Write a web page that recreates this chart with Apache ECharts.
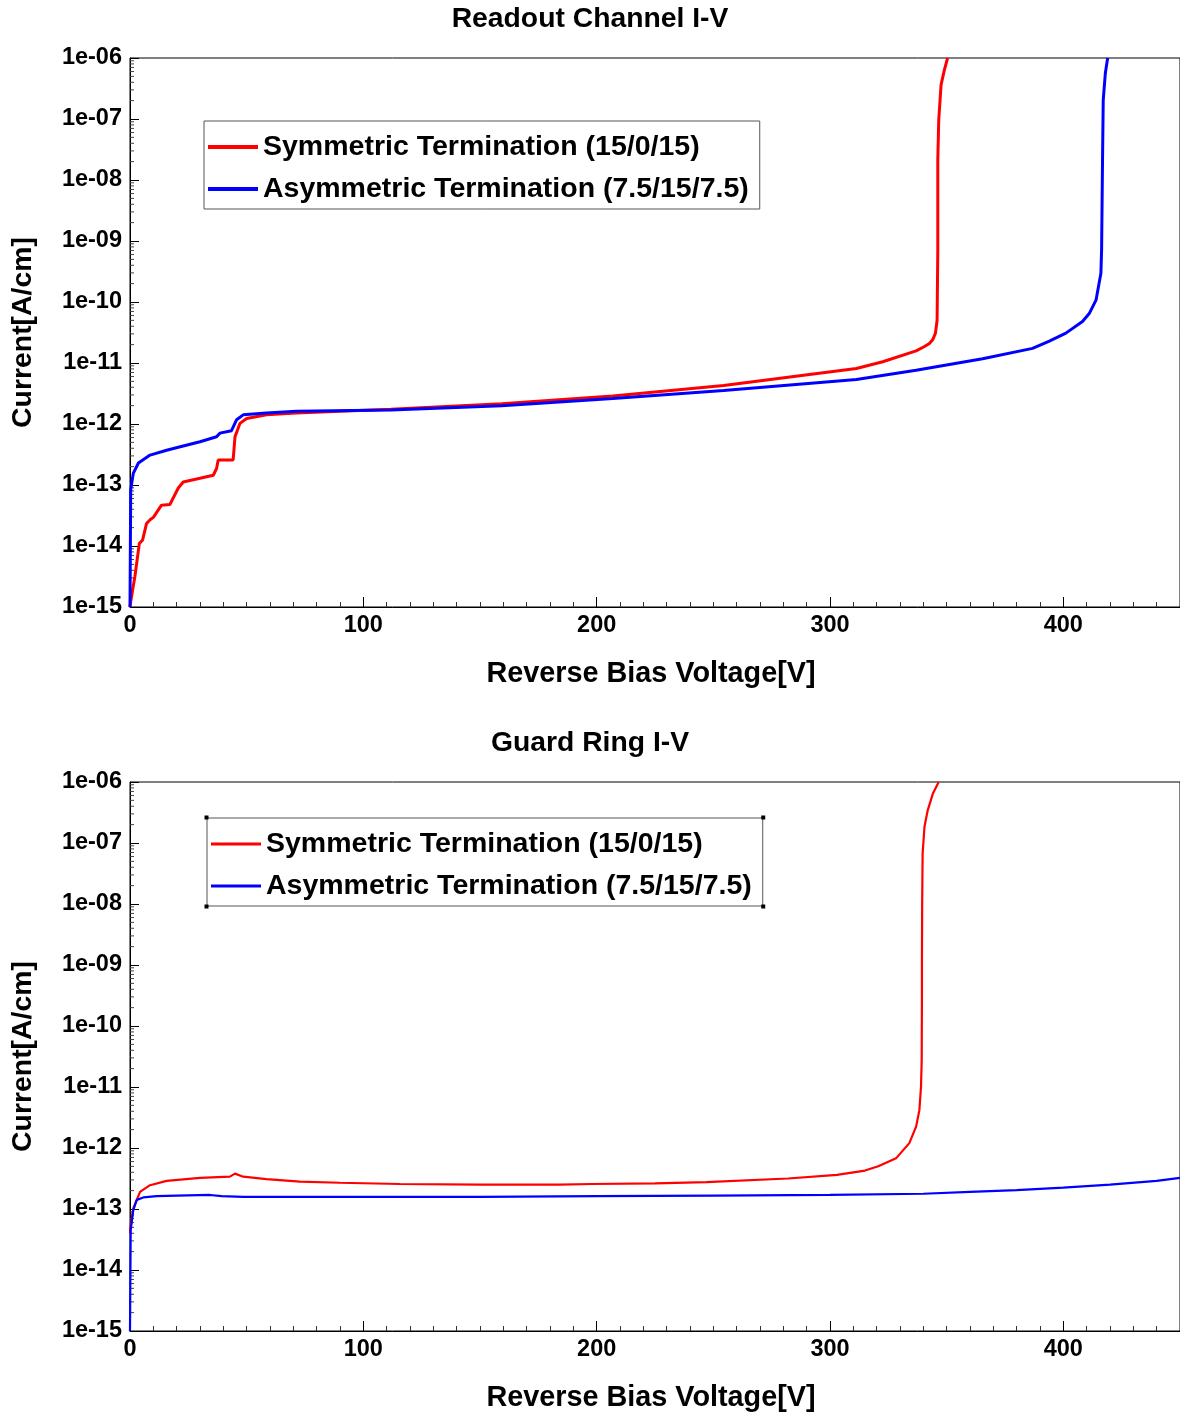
<!DOCTYPE html>
<html><head><meta charset="utf-8">
<script src="https://cdn.jsdelivr.net/npm/echarts@6/dist/echarts.min.js"></script>
<style>html,body{margin:0;padding:0;background:#fff}#c{width:1180px;height:1417px}</style>
</head><body><div id="c"></div>
<script>
// ---- data: [reverse bias voltage V, log10(current A/cm)] ----
const seriesNames = ['Symmetric Termination (15/0/15)', 'Asymmetric Termination (7.5/15/7.5)'];
const panelTitles = ['Readout Channel I-V', 'Guard Ring I-V'];
const yTickExponents = [-15, -14, -13, -12, -11, -10, -9, -8, -7, -6];
const minorMultipliers = [2, 3, 4, 5, 6, 7, 8, 9];

const readoutSym = [[0,-15],[0.3,-14.91],[2.1,-14.5],[4.0,-13.96],[5.4,-13.9],[7.1,-13.63],[8.6,-13.57],[10,-13.53],[13.5,-13.33],[17.1,-13.32],[20.7,-13.05],[22.8,-12.95],[30,-12.89],[35.7,-12.84],[37.1,-12.73],[37.8,-12.59],[44.2,-12.59],[45,-12.21],[47.1,-11.99],[50,-11.91],[58.5,-11.85],[71.3,-11.82],[111.8,-11.76],[159.3,-11.67],[206.9,-11.54],[254.4,-11.37],[287,-11.21],[311.3,-11.09],[322.6,-10.98],[336.9,-10.8],[340.5,-10.73],[342.6,-10.68],[344.0,-10.62],[345.2,-10.51],[345.9,-10.3],[346.2,-9.15],[346.2,-7.67],[346.6,-7.02],[347.6,-6.44],[349,-6.2],[350.4,-6.0]];
const readoutAsym = [[0,-15],[0.3,-13.08],[1.4,-12.81],[3.6,-12.64],[8.6,-12.51],[15.7,-12.43],[22.8,-12.36],[30,-12.29],[37.1,-12.21],[38.5,-12.15],[43.5,-12.11],[45.7,-11.93],[48.5,-11.85],[58.5,-11.82],[71.3,-11.79],[111.8,-11.77],[159.3,-11.7],[206.9,-11.58],[254.4,-11.45],[311.3,-11.27],[336.9,-11.12],[365.4,-10.93],[386.8,-10.76],[394.0,-10.64],[401.1,-10.51],[408.2,-10.32],[411.1,-10.19],[414,-9.97],[416.1,-9.53],[416.4,-9.15],[416.8,-7.67],[417.1,-6.69],[418,-6.25],[419,-6.0]];
const guardSym = [[0,-13.4],[0.2,-13.3],[1.4,-12.99],[4.3,-12.72],[8.6,-12.61],[15.7,-12.54],[30,-12.49],[42.8,-12.47],[45,-12.42],[48.5,-12.47],[58.5,-12.51],[72.8,-12.55],[89.9,-12.57],[115.6,-12.59],[150,-12.6],[184,-12.6],[198,-12.59],[225,-12.58],[247,-12.56],[282,-12.5],[303,-12.44],[315,-12.37],[320.7,-12.3],[328.3,-12.17],[334,-11.92],[336.9,-11.65],[338.3,-11.38],[339,-11.0],[339.3,-10.56],[339.4,-9.5],[339.4,-8.92],[339.5,-7.99],[339.7,-7.17],[340.5,-6.73],[341.9,-6.46],[344.1,-6.19],[346.6,-6.0]];
const guardAsym = [[0,-15],[0.3,-13.34],[1.4,-13.02],[2.9,-12.85],[5.7,-12.81],[11.4,-12.79],[20,-12.78],[34.3,-12.77],[39.3,-12.79],[48.5,-12.8],[100,-12.8],[150,-12.8],[200,-12.79],[250,-12.78],[300,-12.77],[340,-12.75],[360,-12.72],[380,-12.69],[400,-12.65],[420,-12.6],[440,-12.54],[450,-12.49]];

const toCurrent = arr => arr.map(p => [p[0], Math.pow(10, p[1])]);
const minorTickValues = [];
yTickExponents.slice(0, -1).forEach(e => minorMultipliers.forEach(m => minorTickValues.push([0, m * Math.pow(10, e)])));

const FONT = '"Liberation Sans", Arial, sans-serif';
const grids = [
  {left: 130, top: 58, width: 1050, height: 549},
  {left: 130, top: 782, width: 1050, height: 549}
];

function yLabel(v) {
  const e = Math.round(Math.log10(v));
  return '1e-' + String(-e).padStart(2, '0');
}

const legendText = {fontFamily: FONT, fontSize: 28.5, fontWeight: 'bold', color: '#000', lineHeight: 30};

const option = {
  backgroundColor: '#fff',
  animation: false,
  title: panelTitles.map((t, i) => ({
    text: t, left: 'center', top: i === 0 ? 0 : 724,
    textStyle: {fontFamily: FONT, fontSize: 28.3, fontWeight: 'bold', color: '#000'}
  })),
  grid: grids.map(g => Object.assign({show: true, borderColor: '#000', borderWidth: 1, backgroundColor: 'transparent', outerBoundsMode: 'none', containLabel: false}, g)),
  xAxis: grids.map((g, i) => ({
    type: 'value', gridIndex: i, min: 0, max: 450, interval: 100,
    name: 'Reverse Bias Voltage[V]', nameLocation: 'middle', nameGap: 53,
    nameTextStyle: {fontFamily: FONT, fontSize: 28.8, fontWeight: 'bold', color: '#000', padding: [0, 8, 0, 0]},
    axisLine: {lineStyle: {color: '#000', width: 1}},
    axisTick: {inside: true, length: 10, lineStyle: {color: '#000'}},
    minorTick: {show: true, splitNumber: 10, length: 5, lineStyle: {color: '#333'}},
    axisLabel: {fontFamily: FONT, fontSize: 23.5, fontWeight: 'bold', color: '#000', margin: 7, showMaxLabel: false},
    splitLine: {show: false}
  })),
  yAxis: grids.map((g, i) => ({
    type: 'log', gridIndex: i, min: 1e-15, max: 1e-6, logBase: 10, interval: 1,
    name: 'Current[A/cm]', nameLocation: 'middle', nameGap: 93,
    nameTextStyle: {fontFamily: FONT, fontSize: 28.4, fontWeight: 'bold', color: '#000'},
    axisLine: {show: true, lineStyle: {color: '#000', width: 1}},
    axisTick: {inside: true, length: 9, lineStyle: {color: '#000'}},
    axisLabel: {fontFamily: FONT, fontSize: 23.5, fontWeight: 'bold', color: '#000', margin: 8, formatter: yLabel},
    splitLine: {show: false}
  })),
  legend: [
    {left: 204, top: 121, orient: 'vertical', data: seriesNames, icon: 'rect', itemWidth: 50, itemHeight: 4,
     itemGap: 12, padding: [11, 11, 5, 4], borderColor: '#555', borderWidth: 1, backgroundColor: '#fff',
     textStyle: legendText, selectedMode: false},
    {left: 207, top: 818, orient: 'vertical', data: seriesNames, icon: 'rect', itemWidth: 50, itemHeight: 3,
     itemGap: 12, padding: [11, 11, 5, 4], borderColor: '#555', borderWidth: 1, backgroundColor: '#fff',
     textStyle: legendText, selectedMode: false}
  ],
  series: [
    {name: seriesNames[0], type: 'line', xAxisIndex: 0, yAxisIndex: 0, data: toCurrent(readoutSym), showSymbol: false, symbol: 'none', color: '#ff0000', lineStyle: {color: '#ff0000', width: 3}},
    {name: seriesNames[1], type: 'line', xAxisIndex: 0, yAxisIndex: 0, data: toCurrent(readoutAsym), showSymbol: false, symbol: 'none', color: '#0000ff', lineStyle: {color: '#0000ff', width: 3}},
    {name: seriesNames[0], type: 'line', xAxisIndex: 1, yAxisIndex: 1, data: toCurrent(guardSym), showSymbol: false, symbol: 'none', color: '#ff0000', lineStyle: {color: '#ff0000', width: 2.2}},
    {name: seriesNames[1], type: 'line', xAxisIndex: 1, yAxisIndex: 1, data: toCurrent(guardAsym), showSymbol: false, symbol: 'none', color: '#0000ff', lineStyle: {color: '#0000ff', width: 2.2}}
  ].concat([0, 1].map(i => ({
    name: 'minorTicks' + i, type: 'custom', xAxisIndex: i, yAxisIndex: i, silent: true, clip: false,
    data: minorTickValues,
    renderItem: (params, api) => {
      const p = api.coord([api.value(0), api.value(1)]);
      return {type: 'line', shape: {x1: p[0], y1: p[1], x2: p[0] + 4, y2: p[1]}, style: {stroke: '#444', lineWidth: 1}};
    }
  })))
};

const chart = echarts.init(document.getElementById('c'), null, {renderer: 'canvas'});
chart.setOption(option);

// selection handles on the lower legend box corners
setTimeout(() => {
  const lg = chart.getModel().getComponent('legend', 1);
  const view = chart.getViewOfComponentModel(lg);
  const r = view.group.getBoundingRect();
  const x0 = view.group.x + r.x, y0 = view.group.y + r.y;
  const pts = [[x0, y0], [x0 + r.width, y0], [x0, y0 + r.height], [x0 + r.width, y0 + r.height]];
  chart.setOption({graphic: pts.map(p => ({type: 'rect', shape: {x: p[0] - 2, y: p[1] - 2, width: 4, height: 4}, style: {fill: '#000'}, z: 100}))});
}, 0);
</script></body></html>
